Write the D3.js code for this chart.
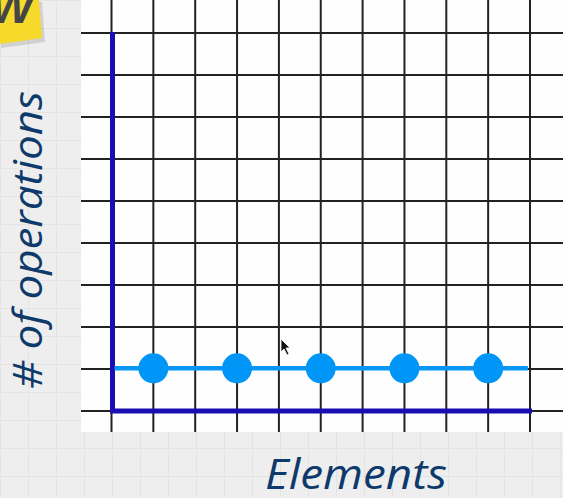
<!DOCTYPE html>
<html>
<head>
<meta charset="utf-8">
<script src="https://cdn.jsdelivr.net/npm/d3@7"></script>
<style>
  html, body { margin: 0; padding: 0; background: #ededed; }
  svg { display: block; }
</style>
</head>
<body>
<script>
// ---- data ----
const xGridValues = [0, 1, 2, 3, 4, 5, 6, 7, 8, 9, 10];
const yGridValues = [0, 1, 2, 3, 4, 5, 6, 7, 8, 9];
const elements = [1, 3, 5, 7, 9];
const operations = [1, 1, 1, 1, 1];
const lineExtent = [0, 9.95];
const xLabel = "Elements";
const yLabel = "# of operations";

const W = 563, H = 498;
const svg = d3.select("body").append("svg").attr("width", W).attr("height", H);

// background pattern
const defs = svg.append("defs");
const pat = defs.append("pattern").attr("id", "bg").attr("width", 28).attr("height", 28)
  .attr("patternUnits", "userSpaceOnUse");
pat.append("rect").attr("width", 28).attr("height", 28).attr("fill", "#eeeeee");
pat.append("path").attr("d", "M0,0.5H28M0.5,0V28").attr("stroke", "#e4e4e4").attr("stroke-width", 1);
svg.append("rect").attr("width", W).attr("height", H).attr("fill", "url(#bg)");

const x = d3.scaleLinear().domain([0, 10]).range([111.5, 530]);
const y = d3.scaleLinear().domain([0, 9]).range([411, 33]);

// white plot paper
svg.append("rect").attr("x", 81).attr("y", 0).attr("width", W - 81).attr("height", 432).attr("fill", "#fefefe");

// grid
const grid = svg.append("g").attr("stroke", "#222").attr("stroke-width", 2);
grid.selectAll("line.v").data(xGridValues).join("line").attr("class", "v")
  .attr("x1", d => x(d)).attr("x2", d => x(d)).attr("y1", 0).attr("y2", 432);
grid.selectAll("line.h").data(yGridValues).join("line").attr("class", "h")
  .attr("x1", 81).attr("x2", W).attr("y1", d => y(d)).attr("y2", d => y(d));

// axes
const axisColor = "#1a0db2";
svg.append("line").attr("x1", x(0) + 1).attr("x2", x(0) + 1).attr("y1", y(9) - 1).attr("y2", y(0) + 2)
  .attr("stroke", axisColor).attr("stroke-width", 5);
svg.append("line").attr("x1", x(0) - 1.5).attr("x2", x(10) + 2).attr("y1", y(0)).attr("y2", y(0))
  .attr("stroke", axisColor).attr("stroke-width", 5);

// series line
const blue = "#0896f4";
svg.append("line").attr("x1", x(lineExtent[0]) + 3).attr("x2", x(lineExtent[1]))
  .attr("y1", y(operations[0]) - 0.7).attr("y2", y(operations[0]) - 0.7)
  .attr("stroke", blue).attr("stroke-width", 4.5);
svg.selectAll("circle.pt").data(elements).join("circle").attr("class", "pt")
  .attr("cx", d => x(d)).attr("cy", (d, i) => y(operations[i]) - 0.7).attr("r", 15)
  .attr("fill", "#0096f7");

// labels
svg.append("text").attr("x", 265).attr("y", 489)
  .attr("font-family", "Open Sans").attr("font-style", "italic").attr("font-weight", 400)
  .attr("font-size", 42).attr("fill", "#0d3a6b")
  .attr("textLength", 182).attr("lengthAdjust", "spacingAndGlyphs").text(xLabel);
svg.append("text").attr("transform", "translate(42,389) rotate(-90)")
  .attr("font-family", "Open Sans").attr("font-style", "italic").attr("font-weight", 400)
  .attr("font-size", 40).attr("fill", "#0d3a6b")
  .attr("textLength", 298).attr("lengthAdjust", "spacingAndGlyphs").text(yLabel);

// sticky note
const note = svg.append("g");
note.append("path").attr("d", "M0,0L41,0L44,40L0,46Z").attr("fill", "#000").attr("opacity", 0.12)
  .attr("transform", "translate(1,2)");
note.append("path").attr("d", "M0,0L39,0L42,38L0,44Z").attr("fill", "#f6d92b");
note.append("text").attr("x", 12).attr("y", 23).attr("text-anchor", "middle")
  .attr("font-family", "Liberation Sans").attr("font-weight", 700).attr("font-style", "italic")
  .attr("font-size", 46).attr("fill", "#454545").text("W");

// cursor
svg.append("path").attr("d", "M281,339L281,352L284,349L287,355L289,354L286,348L290,348Z")
  .attr("fill", "#111").attr("stroke", "#fff").attr("stroke-width", 0.8);
</script>
</body>
</html>
